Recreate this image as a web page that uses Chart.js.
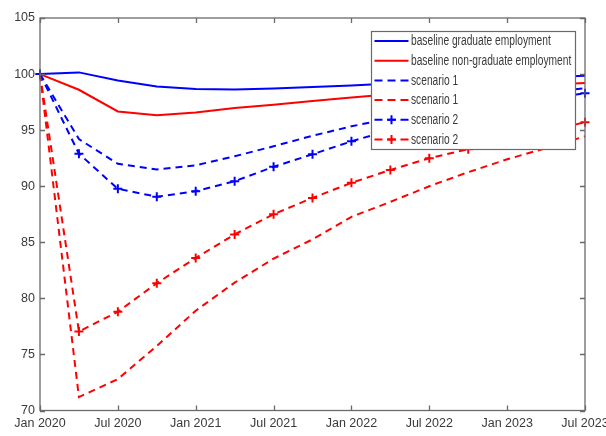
<!DOCTYPE html>
<html>
<head>
<meta charset="utf-8">
<script src="https://cdn.jsdelivr.net/npm/chart.js@4.4.1/dist/chart.umd.min.js"></script>
<style>
  html, body { margin: 0; padding: 0; background: #fff; }
  #wrap { position: relative; width: 606px; height: 436px; }
</style>
</head>
<body>
<div id="wrap"><canvas id="c"></canvas></div>
<script>
// Quarterly employment index (Jan 2020 = 100)
const quarters = ['Jan 2020','Apr 2020','Jul 2020','Oct 2020','Jan 2021','Apr 2021','Jul 2021','Oct 2021',
                  'Jan 2022','Apr 2022','Jul 2022','Oct 2022','Jan 2023','Apr 2023','Jul 2023'];
const yTickValues = [70, 75, 80, 85, 90, 95, 100, 105];

const baselineGraduate    = [100, 100.15, 99.43, 98.9, 98.67, 98.63, 98.72, 98.84, 98.99, 99.15, 99.3, 99.45, 99.6, 99.72, 99.85];
const baselineNonGraduate = [100, 98.6, 96.67, 96.32, 96.58, 96.97, 97.27, 97.6, 97.92, 98.2, 98.45, 98.7, 98.9, 99.05, 99.2];
const scenario1Graduate    = [100, 94.2, 92.0, 91.5, 91.87, 92.67, 93.56, 94.5, 95.34, 96.05, 96.67, 97.25, 97.78, 98.29, 98.75];
const scenario1NonGraduate = [100, 71.2, 72.8, 75.75, 78.9, 81.4, 83.54, 85.26, 87.27, 88.6, 90.0, 91.25, 92.4, 93.4, 94.45];
const scenario2Graduate    = [100, 92.9, 89.77, 89.06, 89.56, 90.45, 91.73, 92.85, 94.0, 95.02, 95.87, 96.58, 97.2, 97.78, 98.3];
const scenario2NonGraduate = [100, 77.05, 78.8, 81.35, 83.6, 85.7, 87.5, 88.96, 90.3, 91.45, 92.5, 93.3, 94.1, 94.9, 95.7];

const BLUE = '#0000ff', RED = '#ff0000';
const FRAME = '#6a6a6a';
const TEXT = '#3a3a3a';
const FONT = "'Liberation Sans', Arial, sans-serif";
const DASH = [7, 5];

function series(label, data, color, dashed, marker) {
  return {
    label, data,
    borderColor: color, backgroundColor: color,
    borderWidth: 2,
    borderDash: dashed ? DASH : [],
    tension: 0,
    fill: false,
    pointStyle: 'cross',
    pointRadius: marker ? 4.5 : 0,
    pointBorderWidth: 2,
    pointBorderColor: color,
    pointHoverRadius: 0
  };
}

// Box frame, inward tick marks on all four sides, and an in-plot legend
const framePlugin = {
  id: 'frame',
  afterDraw(chart) {
    const { ctx, chartArea: a, scales } = chart;
    const L = 5;
    ctx.save();
    ctx.strokeStyle = FRAME;
    ctx.lineWidth = 1.3;
    ctx.setLineDash([]);
    ctx.strokeRect(a.left, a.top, a.right - a.left, a.bottom - a.top);
    ctx.beginPath();
    scales.x.ticks.forEach((t, i) => {
      if (!t.label) return;
      const x = Math.round(scales.x.getPixelForTick(i)) + 0.5;
      ctx.moveTo(x, a.bottom); ctx.lineTo(x, a.bottom - L);
      ctx.moveTo(x, a.top); ctx.lineTo(x, a.top + L);
    });
    scales.y.ticks.forEach((t, i) => {
      const y = Math.round(scales.y.getPixelForTick(i)) + 0.5;
      ctx.moveTo(a.left, y); ctx.lineTo(a.left + L, y);
      ctx.moveTo(a.right, y); ctx.lineTo(a.right - L, y);
    });
    ctx.stroke();

    // legend
    const bx = 371, by = 31, bw = 204, bh = 118;
    ctx.fillStyle = '#fff';
    ctx.fillRect(bx, by, bw, bh);
    ctx.strokeStyle = FRAME;
    ctx.lineWidth = 1.2;
    ctx.strokeRect(bx + 0.5, by + 0.5, bw, bh);
    ctx.font = '14px ' + FONT;
    ctx.textBaseline = 'middle';
    ctx.textAlign = 'left';
    chart.data.datasets.forEach((ds, i) => {
      const cy = by + 10 + i * 19.7;
      const x0 = bx + 3.5, x1 = bx + 37.5;
      ctx.strokeStyle = ds.borderColor;
      ctx.lineWidth = 2;
      ctx.setLineDash(ds.borderDash.length ? [8, 5] : []);
      ctx.beginPath(); ctx.moveTo(x0, cy); ctx.lineTo(x1, cy); ctx.stroke();
      ctx.setLineDash([]);
      if (ds.pointRadius > 0) {
        const mx = (x0 + x1) / 2, r = ds.pointRadius;
        ctx.beginPath();
        ctx.moveTo(mx - r, cy); ctx.lineTo(mx + r, cy);
        ctx.moveTo(mx, cy - r); ctx.lineTo(mx, cy + r);
        ctx.stroke();
      }
      // narrow lettering
      ctx.save();
      ctx.translate(bx + 40, cy + 0.5);
      ctx.scale(0.73, 1);
      ctx.fillStyle = TEXT;
      ctx.fillText(ds.label, 0, 0);
      ctx.restore();
    });
    ctx.restore();
  }
};

new Chart(document.getElementById('c'), {
  type: 'line',
  data: {
    labels: quarters,
    datasets: [
      series('baseline graduate employment', baselineGraduate, BLUE, false, false),
      series('baseline non-graduate employment', baselineNonGraduate, RED, false, false),
      series('scenario 1', scenario1Graduate, BLUE, true, false),
      series('scenario 1', scenario1NonGraduate, RED, true, false),
      series('scenario 2', scenario2Graduate, BLUE, true, true),
      series('scenario 2', scenario2NonGraduate, RED, true, true)
    ]
  },
  options: {
    responsive: true,
    maintainAspectRatio: false,
    animation: false,
    layout: { padding: { top: 18, right: 21, left: 0, bottom: 0 } },
    plugins: { legend: { display: false }, tooltip: { enabled: false } },
    scales: {
      x: {
        type: 'category',
        offset: false,
        border: { display: false },
        grid: { display: false, drawTicks: false },
        ticks: {
          autoSkip: false, maxRotation: 0, minRotation: 0,
          padding: 6,
          color: TEXT,
          font: { family: FONT, size: 12.5 },
          callback(v, i) { return i % 2 === 0 ? this.getLabelForValue(v) : ''; }
        },
        afterFit(s) { s.height = 25.5; s.paddingLeft = 0; s.paddingRight = 0; }
      },
      y: {
        min: 70, max: 105,
        afterBuildTicks(s) { s.ticks = yTickValues.map(v => ({ value: v })); },
        border: { display: false },
        grid: { display: false, drawTicks: false },
        ticks: {
          padding: 5,
          color: TEXT,
          font: { family: FONT, size: 12.5 }
        },
        afterFit(s) { s.width = 40; s.paddingTop = 0; s.paddingBottom = 0; }
      }
    }
  },
  plugins: [framePlugin]
});
</script>
</body>
</html>
